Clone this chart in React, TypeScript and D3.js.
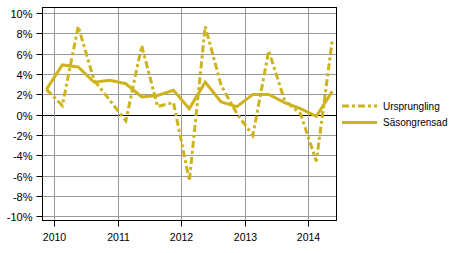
import React from "react";
import * as d3 from "d3";

const quarters = [
  "2010Q1","2010Q2","2010Q3","2010Q4","2011Q1","2011Q2","2011Q3","2011Q4",
  "2012Q1","2012Q2","2012Q3","2012Q4","2013Q1","2013Q2","2013Q3","2013Q4",
  "2014Q1","2014Q2","2014Q3",
];
const ursprungling = [2.5, 0.9, 8.7, 3.4, 1.4, -0.6, 6.8, 0.8, 1.2, -6.5, 8.7, 2.9, 0.1, -2.05, 6.3, 1.4, 0.1, -4.6, 7.3];
const sasongrensad = [2.5, 4.9, 4.7, 3.2, 3.4, 3.05, 1.75, 1.9, 2.4, 0.6, 3.2, 1.25, 0.8, 2.0, 2.0, 1.2, 0.6, -0.15, 2.3];
const yTicks = [-10, -8, -6, -4, -2, 0, 2, 4, 6, 8, 10];
const yearLabels = ["2010", "2011", "2012", "2013", "2014"];

const COLOR = "#cdb41c";
const FONT = "Liberation Sans, Arial, sans-serif";

export default function App() {
  const W = 454, H = 253;
  const left = 42.5, right = 336.5, top = 7.5, bottom = 220.5;
  const x = d3.scaleLinear().domain([-0.25, quarters.length - 0.73]).range([left, right]);
  const y = d3.scaleLinear().domain([-10.42, 10.56]).range([bottom, top]);
  const line = d3.line<number>().x((_, i) => x(i)).y((d) => y(d));
  const yearPos = yearLabels.map((_, k) => Math.round(x(0.5 + 4 * k)) + 0.5);

  return (
    <svg width={W} height={H} style={{ position: "absolute", left: 0, top: 0 }}>
      <rect width={W} height={H} fill="#fff" />
      {yTicks.map((t) => {
        const yy = Math.round(y(t)) + 0.5;
        return (
          <g key={t}>
            <line x1={left} x2={right} y1={yy} y2={yy} stroke={t === 0 ? "#000" : "#999"} strokeWidth={1} />
            <line x1={left - 6} x2={left} y1={yy} y2={yy} stroke="#000" />
            <text x={left - 10} y={yy + 4} textAnchor="end" fontFamily={FONT} fontSize={11} fill="#000">
              {t}%
            </text>
          </g>
        );
      })}
      {yearPos.map((xx, k) => (
        <g key={k}>
          <line x1={xx} x2={xx} y1={top} y2={bottom} stroke="#999" />
          <line x1={xx} x2={xx} y1={bottom} y2={bottom + 6} stroke="#000" />
          <text x={xx} y={241} textAnchor="middle" fontFamily={FONT} fontSize={10.5} fill="#000">
            {yearLabels[k]}
          </text>
        </g>
      ))}
      <rect x={left} y={top} width={right - left} height={bottom - top} fill="none" stroke="#000" strokeWidth={1} />
      <path d={line(sasongrensad) || ""} fill="none" stroke={COLOR} strokeWidth={3} strokeLinejoin="miter" />
      <path d={line(ursprungling) || ""} fill="none" stroke={COLOR} strokeWidth={3} strokeDasharray="7,3,3,3" />
      <g fontFamily={FONT} fontSize={10} fill="#000">
        <line x1={342} x2={377} y1={106} y2={106} stroke={COLOR} strokeWidth={3} strokeDasharray="7,3,3,3" />
        <text x={383} y={109.5}>Ursprungling</text>
        <line x1={342} x2={377} y1={122.5} y2={122.5} stroke={COLOR} strokeWidth={3} />
        <text x={383} y={126}>Säsongrensad</text>
      </g>
    </svg>
  );
}
